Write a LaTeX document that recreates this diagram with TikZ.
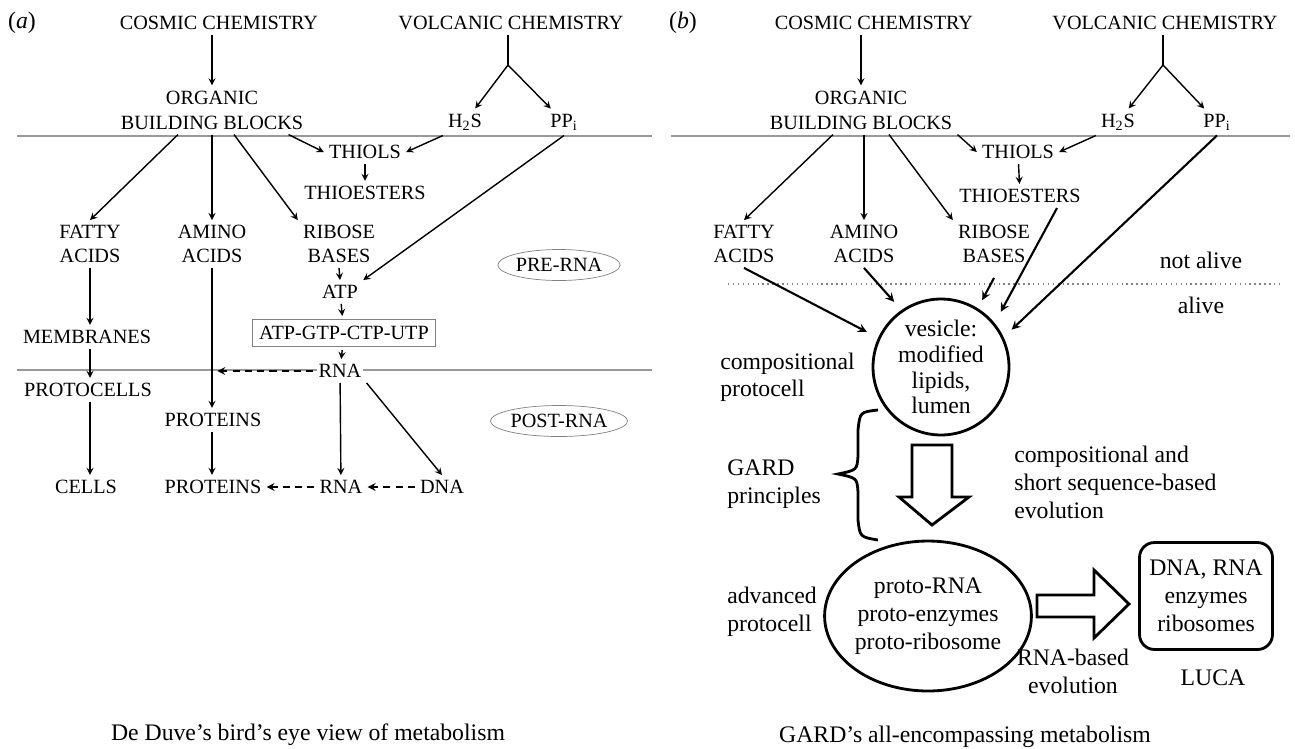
\documentclass[tikz,border=0pt]{standalone}
\usepackage{fontspec}
\setmainfont{Liberation Serif}
\usetikzlibrary{shapes.geometric}

\begin{document}
\begin{tikzpicture}[x=0.02cm, y=-0.02cm,
    lbl/.style={font=\fontsize{11.5}{13.5}\selectfont, align=center, inner sep=1pt, outer sep=2pt},
    big/.style={font=\fontsize{13.5}{16}\selectfont, align=center, inner sep=1pt, outer sep=2pt},
    arr/.style={line width=0.8pt, -stealth},
    fat/.style={line width=1.2pt, -stealth},
    dsh/.style={line width=1pt, dash pattern=on 4pt off 3pt, -stealth},
    sep/.style={draw=gray!80, line width=0.8pt},
    tag/.style={lbl, ellipse, draw=gray, minimum width=2.36cm, minimum height=0.62cm, inner sep=0pt},
    hollow/.style={draw, line width=1.6pt, line join=miter}]
    \useasboundingbox (0, 0) rectangle (1295, 748);

    % (a) de Duve
    \draw[sep] (17, 136) -- (652, 136);
    \draw[sep] (17, 370) -- (652, 370);

    \node[big] (labA) at(22, 23) {(\textit{a})};
    \node[lbl] (cosA) at(219, 23) {COSMIC CHEMISTRY};
    \node[lbl] (volA) at(511, 23) {VOLCANIC CHEMISTRY};
    \node[lbl, font=\fontsize{11.5}{14.2}\selectfont] (obbA) at(212, 110) {ORGANIC\\BUILDING BLOCKS};
    \node[lbl] (h2sA) at(465, 122) {H\textsubscript{2}S};
    \node[lbl] (ppiA) at(564, 122) {PP\textsubscript{i}};
    \coordinate (forkA) at(508, 65);
    \node[lbl] (thiolsA) at(365, 152) {THIOLS};
    \node[lbl] (thioA) at(365, 193) {THIOESTERS};
    \node[lbl] (fattyA) at(90, 244) {FATTY\\ACIDS};
    \node[lbl] (aminoA) at(212, 244) {AMINO\\ACIDS};
    \node[lbl] (riboseA) at(339, 244) {RIBOSE\\BASES};
    \node[tag] (preA) at(559, 265) {PRE-RNA};
    \node[lbl] (atpA) at(340, 292) {ATP};
    \node[lbl, draw=gray, minimum width=3.66cm, minimum height=0.54cm] (boxA) at(344, 333) {ATP-GTP-CTP-UTP};
    \node[lbl] (memA) at(87, 337) {MEMBRANES};
    \node[lbl, fill=white] (rnaA) at(340, 371) {RNA};
    \node[lbl] (protoA) at(88, 390) {PROTOCELLS};
    \node[lbl] (protA) at(213, 420) {PROTEINS};
    \node[tag] (postA) at(559, 421) {POST-RNA};
    \node[lbl] (cellsA) at(86, 487) {CELLS};
    \node[lbl] (prot2A) at(213, 487) {PROTEINS};
    \node[lbl] (rna2A) at(341, 487) {RNA};
    \node[lbl] (dnaA) at(442, 487) {DNA};
    \node[big] (capA) at(308, 735) {De Duve’s bird’s eye view of metabolism};

    \draw[arr] (obbA.north |- cosA.south) -- (obbA.north);
    \draw[line width=0.8pt] (volA.south -| forkA) -- (forkA);
    \draw[arr] (forkA) -- (h2sA);
    \draw[arr] (forkA) -- (ppiA);
    \draw[arr] ([xshift=-0.68cm]obbA.south) -- (fattyA.north);
    \draw[arr] (obbA.south) -- (aminoA.north);
    \draw[arr] ([xshift=0.44cm]obbA.south) -- (riboseA.north west);
    \draw[arr] ([xshift=-0.4cm]obbA.south east) -- (thiolsA.west);
    \draw[arr] (h2sA.south west) -- (thiolsA.east);
    \draw[arr] (thiolsA) -- (thioA);
    \draw[arr] (ppiA.south) -- (atpA.north east);
    \draw[arr] (fattyA.south) -- (fattyA.south |- memA.north);
    \draw[arr] (memA.south -| fattyA.south) -- (fattyA.south |- protoA.north);
    \draw[arr] (protoA.south -| fattyA.south) -- (fattyA.south |- cellsA.north);
    \draw[arr] (aminoA.south) -- (aminoA.south |- protA.north);
    \draw[arr] (protA.south -| aminoA.south) -- (aminoA.south |- prot2A.north);
    \draw[arr] (riboseA.south) -- (atpA.north);
    \draw[arr] (atpA) -- (boxA);
    \draw[arr] (boxA) -- (rnaA);
    \draw[arr] (rnaA) -- (rna2A);
    \draw[arr] (rnaA.south east) -- (dnaA.north);
    \draw[dsh] (rnaA.west) -- ([xshift=3pt]aminoA.south |- rnaA.west);
    \draw[dsh] (dnaA) -- (rna2A);
    \draw[dsh] (rna2A) -- (prot2A);

    % (b) GARD
    \draw[sep] (671, 136) -- (1290, 136);
    \draw[gray, dotted, line width=0.8pt] (728, 284) -- (1280, 284);

    \node[big] (labB) at(683, 23) {(\textit{b})};
    \node[lbl] (cosB) at(874, 23) {COSMIC CHEMISTRY};
    \node[lbl] (volB) at(1165, 23) {VOLCANIC CHEMISTRY};
    \node[lbl, font=\fontsize{11.5}{14.2}\selectfont] (obbB) at(861, 110) {ORGANIC\\BUILDING BLOCKS};
    \node[lbl] (h2sB) at(1118, 122) {H\textsubscript{2}S};
    \node[lbl] (ppiB) at(1217, 122) {PP\textsubscript{i}};
    \coordinate (forkB) at(1163, 65);
    \node[lbl] (thiolsB) at(1018, 152) {THIOLS};
    \node[lbl] (thioB) at(1020, 196) {THIOESTERS};
    \node[lbl] (fattyB) at(744, 244) {FATTY\\ACIDS};
    \node[lbl] (aminoB) at(864, 244) {AMINO\\ACIDS};
    \node[lbl] (riboseB) at(994, 244) {RIBOSE\\BASES};
    \node[big] (deadB) at(1201, 260) {not alive};
    \node[big] (aliveB) at(1201, 305) {alive};
    \node[big, circle, draw, line width=1.6pt, minimum size=2.72cm, inner sep=0pt,
        font=\fontsize{13.5}{14.7}\selectfont] (ves) at(941, 367) {vesicle:\\modified\\lipids,\\lumen};
    \node[big, anchor=west, align=left, font=\fontsize{13.5}{15.3}\selectfont] (compB) at(715, 377) {compositional\\protocell};
    \node[big, anchor=west, align=left] (gardB) at(722, 484) {GARD\\principles};
    \node[big, anchor=west, align=left] (evoB) at(1009, 482) {compositional and\\short sequence-based\\evolution};
    \node[big, ellipse, draw, line width=1.6pt, minimum width=3.76cm, minimum height=3.0cm, inner sep=0pt] (proto) at(928, 616) {proto-RNA\\proto-enzymes\\proto-ribosome};
    \node[big, anchor=west, align=left] (advB) at(722, 612) {advanced\\protocell};
    \node[big, draw, line width=1.6pt, rounded corners=0.3cm, minimum width=2.66cm, minimum height=2.14cm] (luca) at(1206, 596) {DNA, RNA\\enzymes\\ribosomes};
    \node[big] (rnaevoB) at(1073, 671) {RNA-based\\evolution};
    \node[big] (lucaB) at(1213, 678) {LUCA};
    \node[big] (capB) at(965, 737) {GARD’s all-encompassing metabolism};

    \draw[arr] (obbB.north |- cosB.south) -- (obbB.north);
    \draw[line width=0.8pt] (volB.south -| forkB) -- (forkB);
    \draw[arr] (forkB) -- (h2sB);
    \draw[arr] (forkB) -- (ppiB);
    \draw[arr] ([xshift=-0.56cm]obbB.south) -- (fattyB.north);
    \draw[arr] (aminoB.north |- obbB.south) -- (aminoB.north);
    \draw[arr] ([xshift=0.56cm]obbB.south) -- (riboseB.north west);
    \draw[arr] (obbB.south east) -- (thiolsB.west);
    \draw[arr] (h2sB.south west) -- (thiolsB.east);
    \draw[arr] (thiolsB) -- (thioB);

    \draw[fat, shorten >=6pt] (fattyB.south) -- (ves.155);
    \draw[fat, shorten >=5pt] (aminoB.south) -- (ves.125);
    \draw[fat, shorten >=4pt] ([yshift=-0.2cm]riboseB.south) -- (ves.58);
    \draw[fat, shorten >=6pt] ([xshift=0.74cm]thioB.south) -- (ves.40);
    \draw[fat, shorten >=5pt] (ppiB.south) -- (ves.26);

    % brace and block arrows
    \draw[line width=1.6pt] (878, 410) .. controls (860, 412) .. (858, 430) -- (858, 456)
        .. controls (857, 470) .. (838, 474) .. controls (857, 478) .. (858, 492)
        -- (858, 520) .. controls (860, 537) .. (878, 540);
    \draw[hollow] (912, 445) -- (952, 445) -- (952, 497) -- (969, 497) -- (932, 525)
        -- (899, 497) -- (912, 497) -- cycle;
    \draw[hollow] (1037, 595) -- (1094, 595) -- (1094, 570) -- (1129, 604)
        -- (1094, 638) -- (1094, 617) -- (1037, 617) -- cycle;
\end{tikzpicture}
\end{document}
